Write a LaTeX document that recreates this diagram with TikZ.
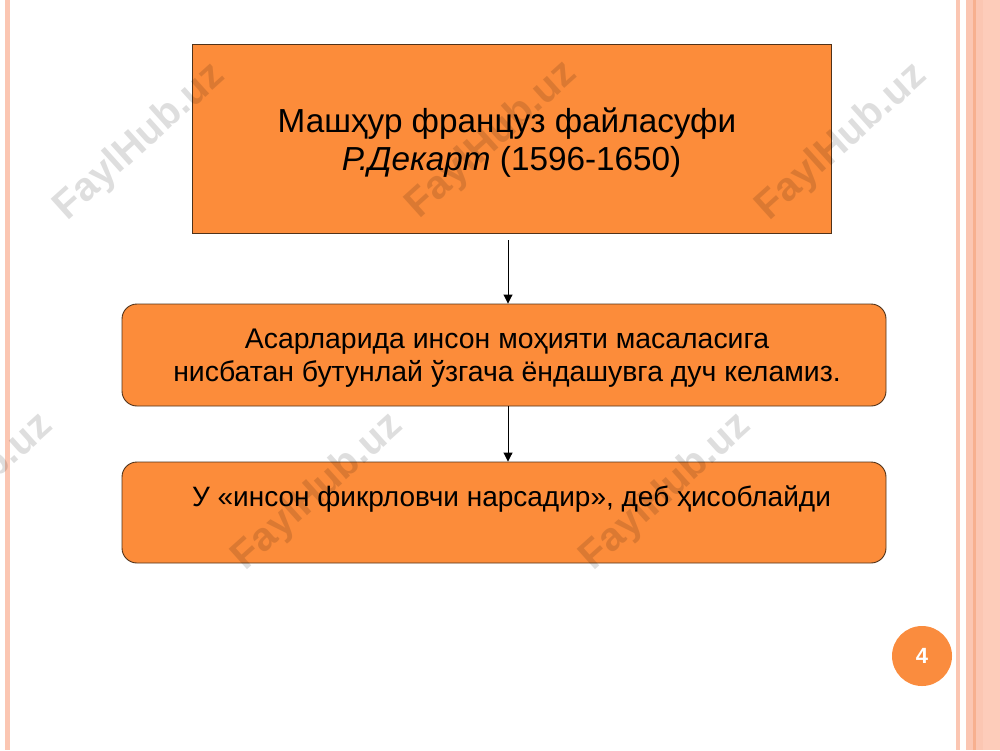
\documentclass[tikz,border=0pt]{standalone}
\usepackage{fontspec}
\setmainfont{Liberation Sans}
\usetikzlibrary{arrows.meta}
\definecolor{boxfill}{RGB}{252,140,58}
\definecolor{boxline}{RGB}{80,50,25}
\definecolor{salmon}{RGB}{251,198,178}
\definecolor{salmondark}{RGB}{247,176,143}
\definecolor{salmonlight}{RGB}{253,204,186}
\definecolor{circfill}{RGB}{250,140,62}
\tikzset{
  sqbox/.style={draw=boxline, line width=0.9pt, fill=boxfill, inner sep=0pt},
  rbox/.style={draw=boxline, line width=0.9pt, fill=boxfill, rounded corners=15pt, inner sep=0pt},
  bigtxt/.style={inner sep=0pt, align=center, font=\fontsize{33.3}{38}\selectfont},
  txt/.style={inner sep=0pt, align=center, font=\fontsize{28.4}{33}\selectfont},
  arr/.style={line width=0.9pt, -{Triangle[width=9pt,length=9pt]}},
  wmark/.style={rotate=42, font=\bfseries\fontsize{40}{40}\selectfont, text=black, text opacity=0.13, inner sep=0pt},
  pgnum/.style={circle, fill=circfill, minimum size=60pt, inner sep=0pt, text=white,
     font=\bfseries\fontsize{22}{22}\selectfont}
}
\begin{document}
\begin{tikzpicture}[x=1pt,y=-1pt]
\useasboundingbox (0,0) rectangle (1000,750);
% side decorations
\fill[salmon] (5,0) rectangle (10,750);
\fill[salmon] (956,0) rectangle (960,750);
\fill[salmon] (966,0) rectangle (1000,750);
\fill[salmondark] (973,0) rectangle (975.5,750);
\fill[salmonlight] (983,0) rectangle (1000,750);
% boxes
\node[sqbox, minimum width=639pt, minimum height=189pt] (b1) at (511.5,138.5) {};
\node[rbox, minimum width=764pt, minimum height=102pt] (b2) at (504,355) {};
\node[rbox, minimum width=764pt, minimum height=101pt] (b3) at (504,512.5) {};
\node[bigtxt] (t1) at (507,143) {Машҳур француз файласуфи\\~\textit{Р.Декарт} (1596-1650)};
\node[txt] (t2) at (507,358.5) {Асарларида инсон моҳияти масаласига\\нисбатан бутунлай ўзгача ёндашувга дуч келамиз.};
\node[txt, font=\fontsize{28}{33}\selectfont] (t3) at (511.5,499.5) {У «инсон фикрловчи нарсадир», деб ҳисоблайди};
% connectors
\coordinate (ax) at (508,0);
\draw[arr] (b1.south -| ax) ++(0,7) -- (b2.north -| ax);
\draw[arr] (b2.south -| ax) -- (b3.north -| ax);
% page number
\node[pgnum] (pn) at (922,656) {4};
% watermarks
\begin{scope}
\clip (0,0) rectangle (1000,750);
\node[wmark] (w1) at (140,142) {FaylHub.uz};
\node[wmark] (w2) at (492,140) {FaylHub.uz};
\node[wmark] (w3) at (842,142) {FaylHub.uz};
\node[wmark] (w4) at (-32,492) {FaylHub.uz};
\node[wmark] (w5) at (318,492) {FaylHub.uz};
\node[wmark] (w6) at (666,492) {FaylHub.uz};
\end{scope}
\end{tikzpicture}
\end{document}
